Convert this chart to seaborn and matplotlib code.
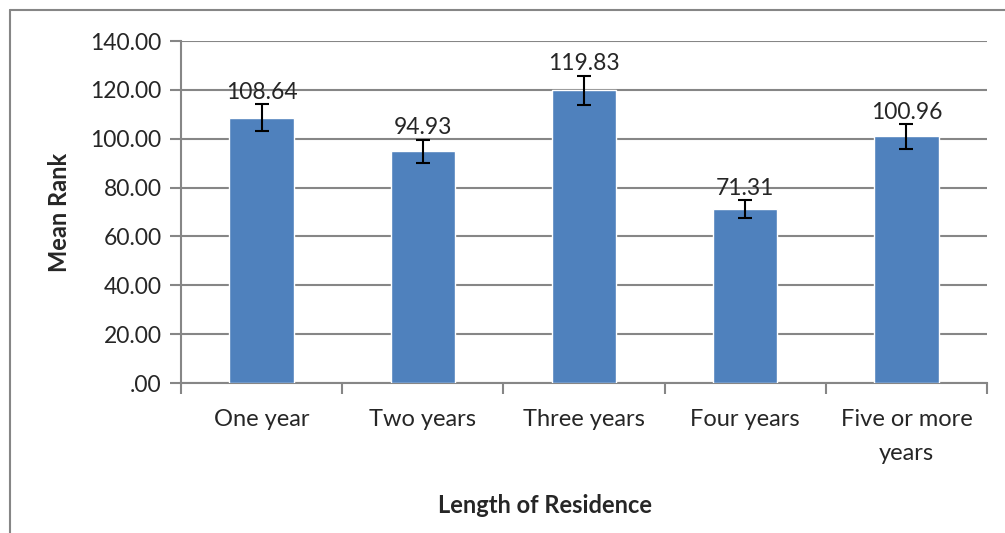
import pandas as pd
import seaborn as sns
import matplotlib.pyplot as plt
from matplotlib.lines import Line2D
from matplotlib.ticker import FuncFormatter, FixedLocator

# values
categories = ["One year", "Two years", "Three years", "Four years", "Five or more\nyears"]
mean_rank = [108.64, 94.93, 119.83, 71.31, 100.96]
errors = [5.4, 4.7, 6.0, 3.6, 5.0]

df = pd.DataFrame({"residence": categories, "mean_rank": mean_rank})

sns.set_style("white")
plt.rcParams['font.family'] = ['Lato', 'DejaVu Sans']

fig = plt.figure(figsize=(10.05, 5.33), dpi=100)
ax = fig.add_axes([181 / 1005, 1 - 383 / 533, 806 / 1005, 342 / 533])

sns.barplot(data=df, x="residence", y="mean_rank", color="#4F81BD",
            saturation=1, width=0.4, errorbar=None, ax=ax, zorder=3)
ax.errorbar(range(len(categories)), mean_rank, yerr=errors, fmt="none",
            ecolor="black", elinewidth=1.5, capsize=5, capthick=1.5, zorder=4)

for i, v in enumerate(mean_rank):
    ax.text(i, v + errors[i] + 0.6, f"{v:.2f}", ha="center", va="bottom",
            fontsize=16.5, zorder=5)

ax.set_ylim(0, 140)
ax.set_xlim(-0.5, len(categories) - 0.5)
ax.set_yticks(range(0, 141, 20))
ax.yaxis.set_major_formatter(FuncFormatter(lambda v, p: ".00" if v == 0 else f"{v:.2f}"))
ax.grid(axis="y", color="#868686", linewidth=1.5, zorder=0)

ax.tick_params(axis="y", direction="out", length=8, width=1.5, color="#868686",
               labelsize=16.5, pad=6, left=True)
ax.tick_params(axis="x", which="major", length=0, labelsize=17, pad=19)
ax.xaxis.set_minor_locator(FixedLocator([i - 0.5 for i in range(len(categories) + 1)]))
ax.tick_params(axis="x", which="minor", direction="out", length=8, width=1.5,
               color="#868686", bottom=True)
for lbl in ax.get_xticklabels():
    lbl.set_linespacing(1.75)

for s in ["top", "right"]:
    ax.spines[s].set_visible(False)
for s in ["left", "bottom"]:
    ax.spines[s].set_color("#868686")
    ax.spines[s].set_linewidth(1.5)

ax.set_xlabel("Length of Residence", fontsize=17, fontweight="bold")
ax.set_ylabel("Mean Rank", fontsize=17, fontweight="bold")
ax.xaxis.set_label_coords((545 - 181) / 806, (494 - 383) / -342)
ax.yaxis.set_label_coords((71 - 181) / 806, 0.5)

# outer chart border (cut off at right and bottom in the original)
fig.add_artist(Line2D([10 / 1005, 10 / 1005], [0, 1 - 10 / 533], color="#868686", linewidth=1.5))
fig.add_artist(Line2D([10 / 1005, 1], [1 - 10 / 533, 1 - 10 / 533], color="#868686", linewidth=1.5))

fig.savefig("out.png", dpi=100)
